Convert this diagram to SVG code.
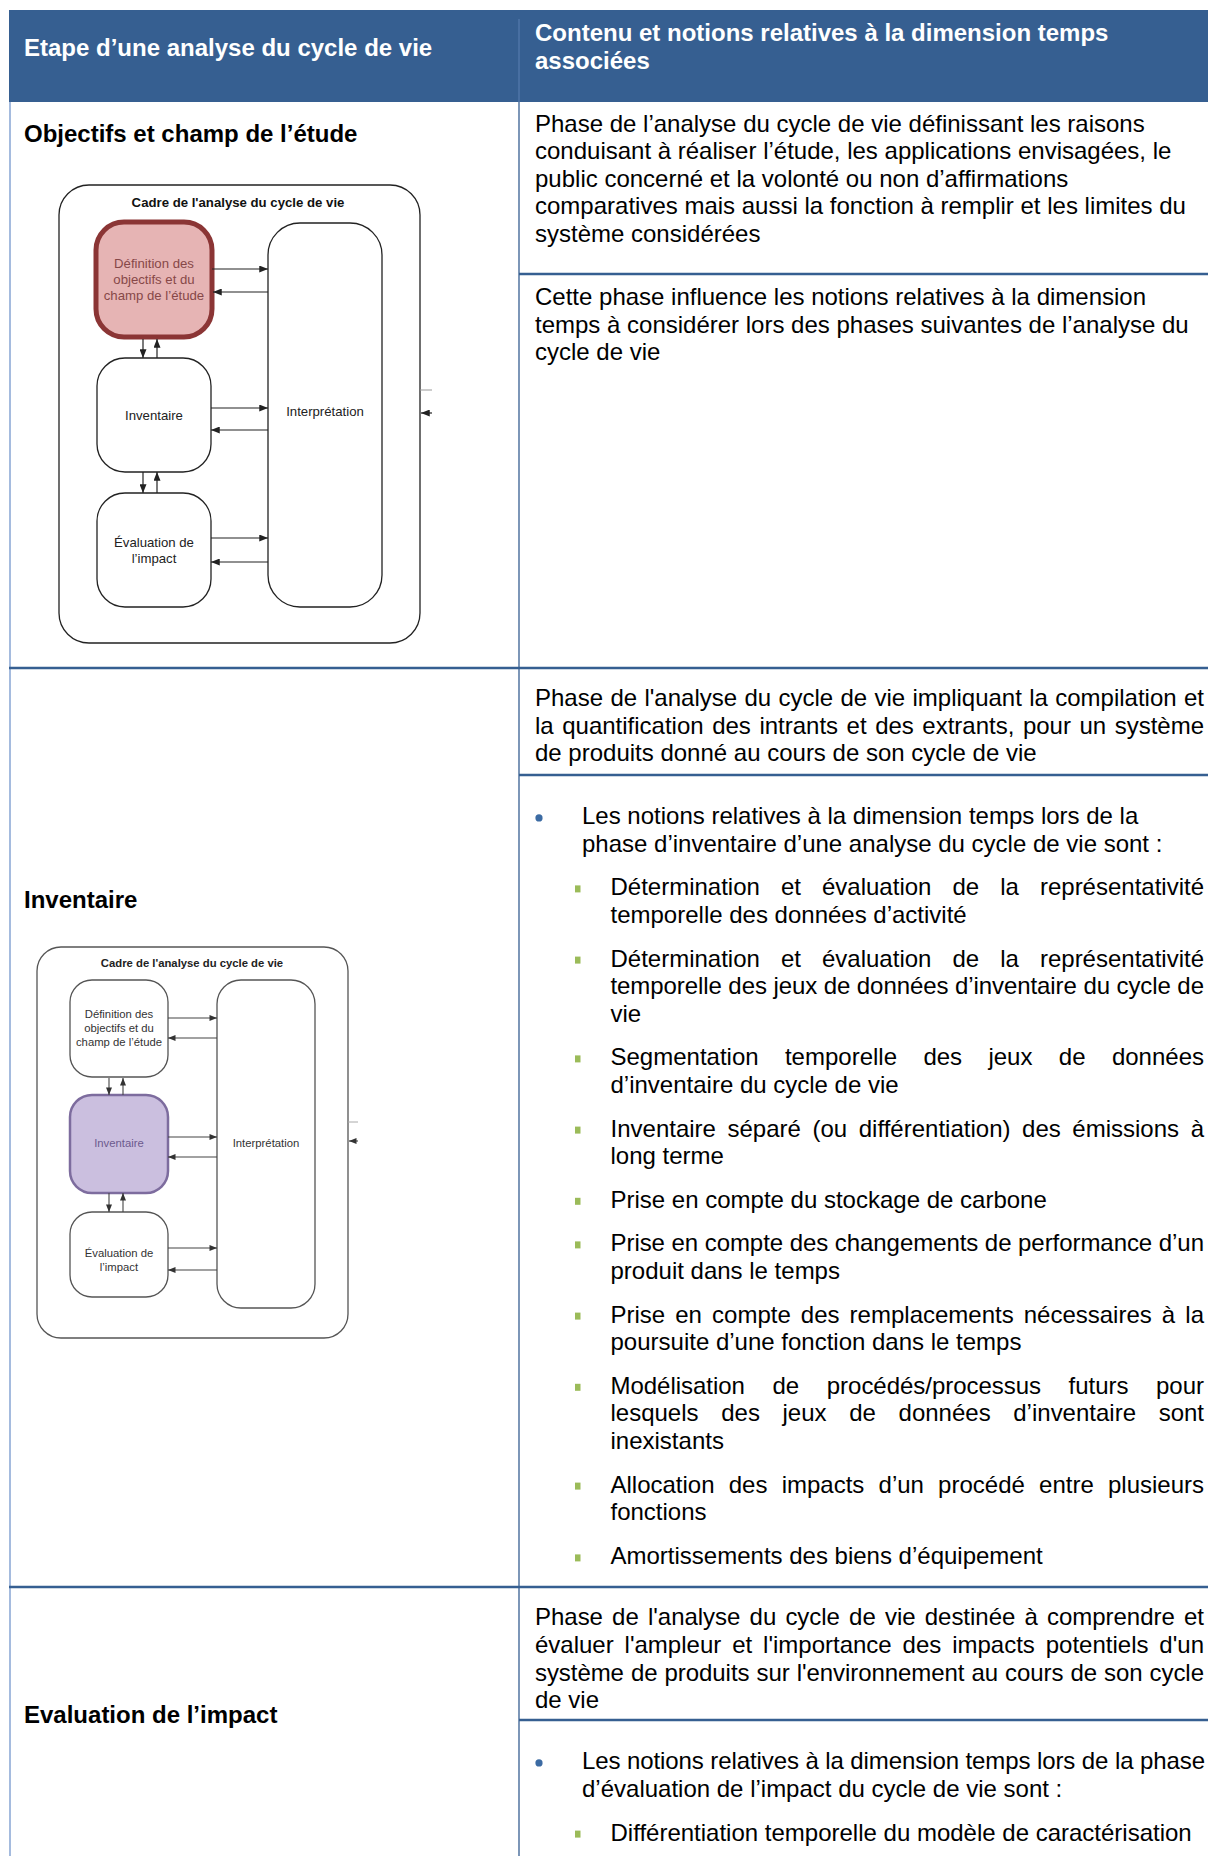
<svg xmlns="http://www.w3.org/2000/svg" width="1208" height="1856" viewBox="0 0 1208 1856">
<defs>
<style>
.t{font-family:"Liberation Sans",Arial,sans-serif;font-size:24px;fill:#000}
.h{font-family:"Liberation Sans",Arial,sans-serif;font-size:24px;font-weight:bold;fill:#fff}
.lb{font-family:"Liberation Sans",Arial,sans-serif;font-size:24px;font-weight:bold;fill:#000}
.d1{font-family:"Liberation Sans",Arial,sans-serif;font-size:13.2px;fill:#222;text-anchor:middle}
.d1b{font-family:"Liberation Sans",Arial,sans-serif;font-size:13.2px;font-weight:bold;fill:#111;text-anchor:middle}
.d2{font-family:"Liberation Sans",Arial,sans-serif;font-size:11.3px;fill:#333;text-anchor:middle}
.d2b{font-family:"Liberation Sans",Arial,sans-serif;font-size:11.3px;font-weight:bold;fill:#222;text-anchor:middle}
.sep{stroke:#365F91;stroke-width:2.4;fill:none}
.sq{fill:#9bbb59}
.dot{fill:#3c6ba3}
.n1{fill:#fff;stroke:#222;stroke-width:1.3}
.n2{fill:#fff;stroke:#555;stroke-width:1.3}
.c1{stroke:#222;stroke-width:1.2;fill:none}
.c2{stroke:#444;stroke-width:1.1;fill:none}
</style>
<marker id="a1" viewBox="0 0 10 8" refX="10" refY="4" markerWidth="9" markerHeight="7" markerUnits="userSpaceOnUse" orient="auto"><path d="M0,0 L10,4 L0,8 z" fill="#222"/></marker>
<marker id="a2" viewBox="0 0 10 8" refX="10" refY="4" markerWidth="8" markerHeight="6" markerUnits="userSpaceOnUse" orient="auto"><path d="M0,0 L10,4 L0,8 z" fill="#333"/></marker>
</defs>
<rect width="1208" height="1856" fill="#fff"/>

<g id="table">
<rect id="header" x="9" y="10" width="1199" height="92" fill="#365F91"/>
<line x1="519" y1="19" x2="519" y2="102" stroke="#5a80b3" stroke-width="1"/>
<line x1="10" y1="102" x2="10" y2="1856" stroke="#8eaad6" stroke-width="1.6"/>
<line x1="519" y1="102" x2="519" y2="1856" stroke="#365F91" stroke-width="1.3"/>
<line class="sep" x1="9" y1="668" x2="1208" y2="668"/>
<line class="sep" x1="9" y1="1587" x2="1208" y2="1587"/>
<line class="sep" x1="519" y1="274" x2="1208" y2="274"/>
<line class="sep" x1="519" y1="775" x2="1208" y2="775"/>
<line class="sep" x1="519" y1="1720" x2="1208" y2="1720"/>
</g>

<g id="header-text">
<text class="h" x="24" y="55.5">Etape d’une analyse du cycle de vie</text>
<text class="h" x="535" y="40.5">Contenu et notions relatives à la dimension temps</text>
<text class="h" x="535" y="68.5">associées</text>
</g>

<g id="row1">
<text class="lb" x="24" y="142">Objectifs et champ de l’étude</text>
<text class="t" x="535" y="131.5">Phase de l’analyse du cycle de vie définissant les raisons</text>
<text class="t" x="535" y="159.1">conduisant à réaliser l’étude, les applications envisagées, le</text>
<text class="t" x="535" y="186.7">public concerné et la volonté ou non d’affirmations</text>
<text class="t" x="535" y="214.3">comparatives mais aussi la fonction à remplir et les limites du</text>
<text class="t" x="535" y="241.9">système considérées</text>
<text class="t" x="535" y="305">Cette phase influence les notions relatives à la dimension</text>
<text class="t" x="535" y="332.6">temps à considérer lors des phases suivantes de l’analyse du</text>
<text class="t" x="535" y="360.2">cycle de vie</text>
</g>

<g id="diagram1">
<rect x="59" y="185" width="361" height="458" rx="30" class="n1"/>
<text class="d1b" x="238" y="207">Cadre de l'analyse du cycle de vie</text>
<g id="d1-def">
<rect x="96" y="222" width="116" height="115" rx="28" fill="#e6b4b4" stroke="#8b3535" stroke-width="5"/>
<text class="d1" x="154" y="268" style="fill:#864848">Définition des</text>
<text class="d1" x="154" y="284" style="fill:#864848">objectifs et du</text>
<text class="d1" x="154" y="300" style="fill:#864848">champ de l’étude</text>
</g>
<g id="d1-inv">
<rect x="97" y="358" width="114" height="114" rx="28" class="n1"/>
<text class="d1" x="154" y="420">Inventaire</text>
</g>
<g id="d1-eval">
<rect x="97" y="493" width="114" height="114" rx="28" class="n1"/>
<text class="d1" x="154" y="547">Évaluation de</text>
<text class="d1" x="154" y="563">l’impact</text>
</g>
<g id="d1-interp">
<rect x="268" y="223" width="114" height="384" rx="32" class="n1"/>
<text class="d1" x="325" y="416">Interprétation</text>
</g>
<g id="d1-connectors">
<line class="c1" x1="212" y1="269" x2="268" y2="269" marker-end="url(#a1)"/>
<line class="c1" x1="268" y1="292" x2="213" y2="292" marker-end="url(#a1)"/>
<line class="c1" x1="211" y1="408" x2="268" y2="408" marker-end="url(#a1)"/>
<line class="c1" x1="268" y1="430" x2="211" y2="430" marker-end="url(#a1)"/>
<line class="c1" x1="211" y1="538" x2="268" y2="538" marker-end="url(#a1)"/>
<line class="c1" x1="268" y1="562" x2="211" y2="562" marker-end="url(#a1)"/>
<line class="c1" x1="143" y1="339" x2="143" y2="358" marker-end="url(#a1)"/>
<line class="c1" x1="157" y1="358" x2="157" y2="339" marker-end="url(#a1)"/>
<line class="c1" x1="143" y1="472" x2="143" y2="493" marker-end="url(#a1)"/>
<line class="c1" x1="157" y1="493" x2="157" y2="472" marker-end="url(#a1)"/>
<line x1="420" y1="390" x2="432" y2="390" stroke="#999" stroke-width="1"/>
<line class="c1" x1="432" y1="413" x2="421" y2="413" marker-end="url(#a1)"/>
</g>
</g>

<g id="row2">
<text class="lb" x="24" y="908.4">Inventaire</text>
<text class="t" x="535" y="706" style="word-spacing:0.68px" textLength="669" lengthAdjust="spacing">Phase de l'analyse du cycle de vie impliquant la compilation et</text>
<text class="t" x="535" y="733.6" style="word-spacing:1.85px" textLength="669" lengthAdjust="spacing">la quantification des intrants et des extrants, pour un système</text>
<text class="t" x="535" y="761.2">de produits donné au cours de son cycle de vie</text>
<circle class="dot" cx="539" cy="817.9" r="3.6"/>
<text class="t" x="582" y="824.4">Les notions relatives à la dimension temps lors de la</text>
<text class="t" x="582" y="852">phase d’inventaire d’une analyse du cycle de vie sont :</text>

<rect class="sq" x="575" y="885.4" width="5.5" height="7"/>
<text class="t" x="610.5" y="895.4" style="word-spacing:14.38px" textLength="593.5" lengthAdjust="spacing">Détermination et évaluation de la représentativité</text>
<text class="t" x="610.5" y="923">temporelle des données d’activité</text>

<rect class="sq" x="575" y="956.6" width="5.5" height="7"/>
<text class="t" x="610.5" y="966.6" style="word-spacing:14.38px" textLength="593.5" lengthAdjust="spacing">Détermination et évaluation de la représentativité</text>
<text class="t" x="610.5" y="994.2" textLength="593.5" lengthAdjust="spacing">temporelle des jeux de données d’inventaire du cycle de</text>
<text class="t" x="610.5" y="1021.8">vie</text>

<rect class="sq" x="575" y="1055.4" width="5.5" height="7"/>
<text class="t" x="610.5" y="1065.4" style="word-spacing:19.72px" textLength="593.5" lengthAdjust="spacing">Segmentation temporelle des jeux de données</text>
<text class="t" x="610.5" y="1093">d’inventaire du cycle de vie</text>

<rect class="sq" x="575" y="1126.6" width="5.5" height="7"/>
<text class="t" x="610.5" y="1136.6" style="word-spacing:4.88px" textLength="593.5" lengthAdjust="spacing">Inventaire séparé (ou différentiation) des émissions à</text>
<text class="t" x="610.5" y="1164.2">long terme</text>

<rect class="sq" x="575" y="1197.8" width="5.5" height="7"/>
<text class="t" x="610.5" y="1207.8">Prise en compte du stockage de carbone</text>

<rect class="sq" x="575" y="1241.4" width="5.5" height="7"/>
<text class="t" x="610.5" y="1251.4" textLength="593.5" lengthAdjust="spacing">Prise en compte des changements de performance d’un</text>
<text class="t" x="610.5" y="1279">produit dans le temps</text>

<rect class="sq" x="575" y="1312.6" width="5.5" height="7"/>
<text class="t" x="610.5" y="1322.6" style="word-spacing:3.43px" textLength="593.5" lengthAdjust="spacing">Prise en compte des remplacements nécessaires à la</text>
<text class="t" x="610.5" y="1350.2">poursuite d’une fonction dans le temps</text>

<rect class="sq" x="575" y="1383.8" width="5.5" height="7"/>
<text class="t" x="610.5" y="1393.8" style="word-spacing:21px" textLength="593.5" lengthAdjust="spacing">Modélisation de procédés/processus futurs pour</text>
<text class="t" x="610.5" y="1421.4" style="word-spacing:15.98px" textLength="593.5" lengthAdjust="spacing">lesquels des jeux de données d’inventaire sont</text>
<text class="t" x="610.5" y="1449">inexistants</text>

<rect class="sq" x="575" y="1482.6" width="5.5" height="7"/>
<text class="t" x="610.5" y="1492.6" style="word-spacing:7.55px" textLength="593.5" lengthAdjust="spacing">Allocation des impacts d’un procédé entre plusieurs</text>
<text class="t" x="610.5" y="1520.2">fonctions</text>

<rect class="sq" x="575" y="1554.4" width="5.5" height="7"/>
<text class="t" x="610.5" y="1564.4">Amortissements des biens d’équipement</text>
</g>

<g id="diagram2">
<rect x="37" y="947" width="311" height="391" rx="24" class="n2"/>
<text class="d2b" x="192" y="967">Cadre de l'analyse du cycle de vie</text>
<g id="d2-def">
<rect x="70" y="980" width="98" height="97" rx="22" class="n2"/>
<text class="d2" x="119" y="1018">Définition des</text>
<text class="d2" x="119" y="1032">objectifs et du</text>
<text class="d2" x="119" y="1046">champ de l’étude</text>
</g>
<g id="d2-inv">
<rect x="70" y="1095" width="98" height="98" rx="22" fill="#cbbfdf" stroke="#7d6c9e" stroke-width="2.5"/>
<text class="d2" x="119" y="1147" style="fill:#6b5a8e">Inventaire</text>
</g>
<g id="d2-eval">
<rect x="70" y="1212" width="98" height="85" rx="22" class="n2"/>
<text class="d2" x="119" y="1257">Évaluation de</text>
<text class="d2" x="119" y="1271">l’impact</text>
</g>
<g id="d2-interp">
<rect x="217" y="980" width="98" height="328" rx="24" class="n2"/>
<text class="d2" x="266" y="1147">Interprétation</text>
</g>
<g id="d2-connectors">
<line class="c2" x1="168" y1="1018" x2="217" y2="1018" marker-end="url(#a2)"/>
<line class="c2" x1="217" y1="1038" x2="168" y2="1038" marker-end="url(#a2)"/>
<line class="c2" x1="168" y1="1137" x2="217" y2="1137" marker-end="url(#a2)"/>
<line class="c2" x1="217" y1="1157" x2="168" y2="1157" marker-end="url(#a2)"/>
<line class="c2" x1="168" y1="1248" x2="217" y2="1248" marker-end="url(#a2)"/>
<line class="c2" x1="217" y1="1270" x2="168" y2="1270" marker-end="url(#a2)"/>
<line class="c2" x1="109" y1="1078" x2="109" y2="1095" marker-end="url(#a2)"/>
<line class="c2" x1="123" y1="1095" x2="123" y2="1078" marker-end="url(#a2)"/>
<line class="c2" x1="109" y1="1193" x2="109" y2="1212" marker-end="url(#a2)"/>
<line class="c2" x1="123" y1="1212" x2="123" y2="1193" marker-end="url(#a2)"/>
<line x1="348" y1="1122" x2="358" y2="1122" stroke="#aaa" stroke-width="1"/>
<line class="c2" x1="358" y1="1141" x2="349" y2="1141" marker-end="url(#a2)"/>
</g>
</g>

<g id="row3">
<text class="lb" x="24" y="1723.4">Evaluation de l’impact</text>
<text class="t" x="535" y="1625.4" style="word-spacing:2.54px" textLength="669" lengthAdjust="spacing">Phase de l'analyse du cycle de vie destinée à comprendre et</text>
<text class="t" x="535" y="1653" style="word-spacing:4.24px" textLength="669" lengthAdjust="spacing">évaluer l'ampleur et l'importance des impacts potentiels d'un</text>
<text class="t" x="535" y="1680.6" style="word-spacing:0.43px" textLength="669" lengthAdjust="spacing">système de produits sur l'environnement au cours de son cycle</text>
<text class="t" x="535" y="1708.2">de vie</text>
<circle class="dot" cx="539" cy="1762.9" r="3.6"/>
<text class="t" x="582" y="1769.4" textLength="623" lengthAdjust="spacing">Les notions relatives à la dimension temps lors de la phase</text>
<text class="t" x="582" y="1797">d’évaluation de l’impact du cycle de vie sont :</text>
<rect class="sq" x="575" y="1830.6" width="5.5" height="7"/>
<text class="t" x="610.5" y="1840.6">Différentiation temporelle du modèle de caractérisation</text>
</g>
</svg>
